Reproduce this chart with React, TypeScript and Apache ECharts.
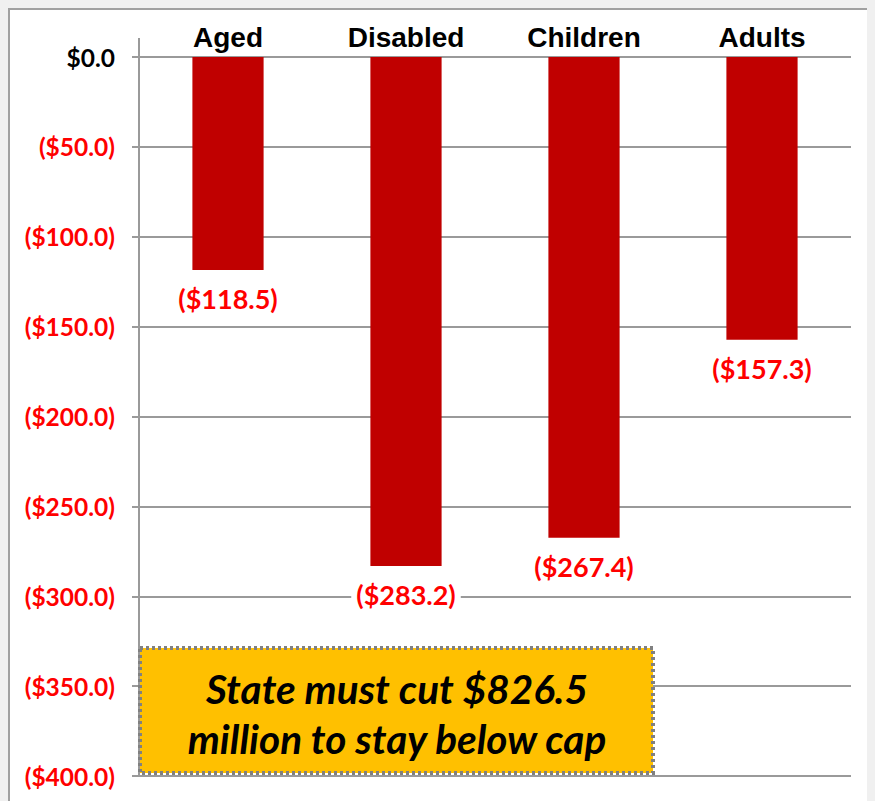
import React, { useEffect, useRef } from "react";
import * as echarts from "echarts";

// Budget gap by eligibility group, in $ millions
const categories = ["Aged", "Disabled", "Children", "Adults"];
const cuts = [-118.5, -283.2, -267.4, -157.3];
const yMin = -400;
const yMax = 0;
const yStep = 50;
const noteText = "State must cut $826.5\nmillion to stay below cap";

const fmtMoney = (v: number) =>
  v === 0 ? "$0.0" : v < 0 ? `($${Math.abs(v).toFixed(1)})` : `$${v.toFixed(1)}`;

export default function App() {
  const ref = useRef<HTMLDivElement>(null);

  useEffect(() => {
    document.body.style.background = "#f0f0f0";
    const chart = echarts.init(ref.current!, null, { renderer: "svg" });
    const gridLeft = 131;
    const gridTop = 49;
    chart.setOption({
      animation: false,
      backgroundColor: "#ffffff",
      grid: { left: gridLeft, top: gridTop, width: 712, height: 719 },
      xAxis: {
        type: "category",
        position: "top",
        data: categories,
        axisLine: { show: false },
        axisTick: { show: false },
        axisLabel: {
          margin: 6,
          color: "#000000",
          fontFamily: "Liberation Sans, Arial, sans-serif",
          fontWeight: "bold",
          fontSize: 28,
        },
      },
      yAxis: {
        type: "value",
        min: yMin,
        max: yMax,
        interval: yStep,
        axisLine: { show: true, lineStyle: { color: "#9a9a9a", width: 2 } },
        axisTick: { show: true, length: 7, lineStyle: { color: "#9a9a9a", width: 2 } },
        splitLine: { show: true, lineStyle: { color: "#9a9a9a", width: 2 } },
        axisLabel: {
          margin: 24,
          fontFamily: "Lato, sans-serif",
          fontWeight: "bold",
          fontSize: 24.5,
          formatter: (v: number) => fmtMoney(v),
          color: (v: any) => (Number(v) === 0 ? "#000000" : "#ff0000"),
        },
      },
      series: [
        {
          type: "bar",
          data: cuts,
          barWidth: "40%",
          itemStyle: { color: "#c00000" },
          label: {
            show: true,
            position: "bottom",
            distance: 13,
            formatter: (p: any) => fmtMoney(p.value),
            color: "#ff0000",
            fontFamily: "Lato, sans-serif",
            fontWeight: "bold",
            fontSize: 27,
            backgroundColor: "#ffffff",
            padding: [2, 5],
          },
        },
      ],
      graphic: [
        {
          type: "rect",
          z: 100,
          shape: { x: 1, y: 1, width: 880, height: 820 },
          style: { fill: "none", stroke: "#a0a0a0", lineWidth: 2 },
          silent: true,
        },
        {
          type: "line",
          z: 100,
          shape: { x1: gridLeft, y1: 30, x2: gridLeft, y2: gridTop },
          style: { stroke: "#9a9a9a", lineWidth: 2 },
          silent: true,
        },
        {
          type: "group",
          left: 130,
          top: 638,
          z: 100,
          children: [
            {
              type: "rect",
              z: 100,
              shape: { x: 0, y: 0, width: 513, height: 125 },
              style: {
                fill: "#ffc000",
                stroke: "#808080",
                lineWidth: 4,
                lineDash: [3, 3],
              },
            },
            {
              type: "text",
              z: 101,
              x: 257,
              y: 65,
              style: {
                text: noteText,
                align: "center",
                verticalAlign: "middle",
                fill: "#000000",
                fontFamily: "Lato, sans-serif",
                fontStyle: "italic",
                fontWeight: "bold",
                fontSize: 40.5,
                lineHeight: 50,
              },
            },
          ],
        },
      ],
    });
    return () => chart.dispose();
  }, []);

  return <div ref={ref} style={{ width: 867, height: 793 }} />;
}
